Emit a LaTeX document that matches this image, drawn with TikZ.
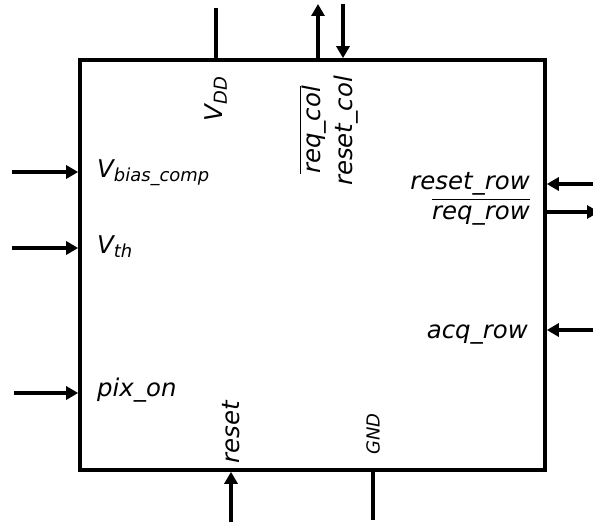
\documentclass[tikz,border=0pt]{standalone}
\usepackage{fontspec}
\setmainfont{DejaVu Sans}
\usetikzlibrary{positioning,calc,arrows.meta}

\newcommand{\activelow}[1]{$\overline{\mbox{\vphantom{Il}#1}}$}
\newcommand{\lowidx}[1]{\raisebox{-0.3ex}{\fontsize{18}{20}\selectfont #1}}

\begin{document}
\begin{tikzpicture}[
    x=1bp, y=-1bp,
    every node/.style={font=\fontsize{24.5}{28}\selectfont\itshape, inner sep=1bp},
    chip/.style={
        draw,
        line width=3.6bp,
        minimum width=465bp,
        minimum height=410bp,
        inner sep=0pt
    },
    sigline/.style={line width=3.6bp},
    sigarrow/.style={sigline, -{Triangle[length=12bp,width=13bp]}},
    sidelabel/.style={rotate=90}
]
\useasboundingbox (0,0) rectangle (593,524);

\node[chip] (pixel) at (312.5,265) {};

% outer ends of the pins
\coordinate (vddEnd) at (216,8);
\coordinate (reqcolEnd) at (318,4);
\coordinate (resetcolEnd) at (343,4);
\coordinate (vbiasEnd) at (12,172);
\coordinate (vthEnd) at (12,248);
\coordinate (pixonEnd) at (14,393);
\coordinate (resetrowEnd) at (593,184);
\coordinate (reqrowEnd) at (599,212);
\coordinate (acqrowEnd) at (593,330);
\coordinate (resetEnd) at (231,522);
\coordinate (gndEnd) at (373,520);

% top
\draw[sigline] (vddEnd) -- (vddEnd |- pixel.north);
\draw[sigarrow] (reqcolEnd |- pixel.north) -- (reqcolEnd);
\draw[sigarrow] (resetcolEnd) -- (resetcolEnd |- pixel.north);
% left
\draw[sigarrow] (vbiasEnd) -- (vbiasEnd -| pixel.west);
\draw[sigarrow] (vthEnd) -- (vthEnd -| pixel.west);
\draw[sigarrow] (pixonEnd) -- (pixonEnd -| pixel.west);
% right
\draw[sigarrow] (resetrowEnd) -- (resetrowEnd -| pixel.east);
\draw[sigarrow] (reqrowEnd -| pixel.east) -- (reqrowEnd);
\draw[sigarrow] (acqrowEnd) -- (acqrowEnd -| pixel.east);
% bottom
\draw[sigarrow] (resetEnd) -- (resetEnd |- pixel.south);
\draw[sigline] (gndEnd) -- (gndEnd |- pixel.south);

% labels
\node[sidelabel] (vdd) at (216,99) {V\lowidx{DD}};
\node[sidelabel] (reqcol) at (313,130) {\activelow{req\_col}};
\node[sidelabel] (resetcol) at (346,131) {reset\_col};
\node[anchor=west] (vbias) at (96,173) {V\lowidx{bias\_comp}};
\node[anchor=west] (vth) at (96,247) {V\lowidx{th}};
\node[anchor=west] (pixon) at (96,390) {pix\_on};
\node[anchor=east] (resetrow) at (531,184) {reset\_row};
\node[anchor=east] (reqrow) at (531,212) {\activelow{req\_row}};
\node[anchor=east] (acqrow) at (529,335) {acq\_row};
\node[sidelabel] (reset) at (231,432) {reset};
\node[sidelabel, font=\fontsize{18}{20}\selectfont\itshape] (gnd) at (373,434) {GND};
\end{tikzpicture}
\end{document}
